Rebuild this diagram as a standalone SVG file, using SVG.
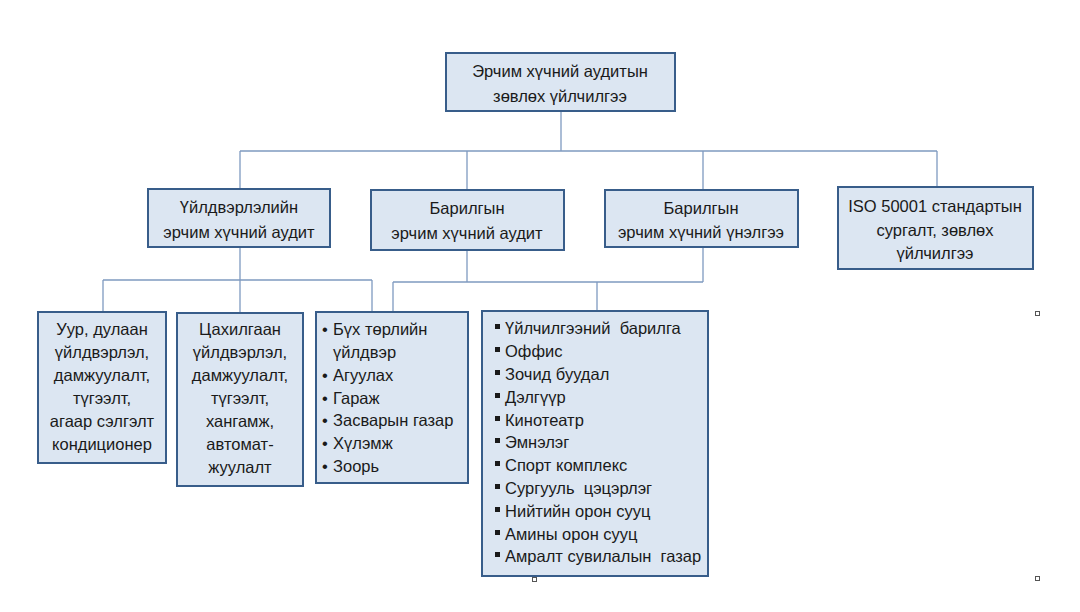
<svg xmlns="http://www.w3.org/2000/svg" width="1080" height="612" viewBox="0 0 1080 612">
<style>
.box{fill:#dce6f2;stroke:#385d8a;stroke-width:2}
.t{font-family:"Liberation Sans",Arial,sans-serif;font-size:16.5px;fill:#1a1a1a}
.c{text-anchor:middle}
.ln{fill:none;stroke:#7f9ac0;stroke-width:1.3}
.sq{fill:#fff;stroke:#555;stroke-width:1}
</style>
<rect width="1080" height="612" fill="#fff"/>
<g id="connectors" class="ln">
<path d="M561 111V151M240 151H937M240 151V189M467 151V190M703 151V190M937 151V187"/>
<path d="M240 247V280M103 280H372M103 280V312M240 280V313M372 280V312"/>
<path d="M467 250V282M703 247V282M393 282H703M393 282V312M597 282V311"/>
</g>
<g id="root">
<rect class="box" x="446" y="53" width="229" height="58"/>
<text class="t c" x="560" y="77">Эрчим хүчний аудитын</text>
<text class="t c" x="560" y="102">зөвлөх үйлчилгээ</text>
</g>
<g id="industry">
<rect class="box" x="148" y="189" width="182" height="58"/>
<text class="t c" x="239" y="213">Үйлдвэрлэлийн</text>
<text class="t c" x="239" y="238">эрчим хүчний аудит</text>
</g>
<g id="building-audit">
<rect class="box" x="371" y="190" width="193" height="60"/>
<text class="t c" x="467" y="214">Барилгын</text>
<text class="t c" x="467" y="239">эрчим хүчний аудит</text>
</g>
<g id="building-rating">
<rect class="box" x="605" y="190" width="193" height="57"/>
<text class="t c" x="701" y="214">Барилгын</text>
<text class="t c" x="701" y="238">эрчим хүчний үнэлгээ</text>
</g>
<g id="iso">
<rect class="box" x="838" y="187" width="195" height="82"/>
<text class="t c" x="935" y="212">ISO 50001 стандартын</text>
<text class="t c" x="935" y="236">сургалт, зөвлөх</text>
<text class="t c" x="935" y="259">үйлчилгээ</text>
</g>
<g id="heat">
<rect class="box" x="38" y="312" width="128" height="151"/>
<text class="t c" x="102" y="335">Уур, дулаан</text>
<text class="t c" x="102" y="358">үйлдвэрлэл,</text>
<text class="t c" x="102" y="381">дамжуулалт,</text>
<text class="t c" x="102" y="404">түгээлт,</text>
<text class="t c" x="102" y="427">агаар сэлгэлт</text>
<text class="t c" x="102" y="450">кондиционер</text>
</g>
<g id="electric">
<rect class="box" x="177" y="313" width="126" height="173"/>
<text class="t c" x="240" y="335">Цахилгаан</text>
<text class="t c" x="240" y="358">үйлдвэрлэл,</text>
<text class="t c" x="240" y="381">дамжуулалт,</text>
<text class="t c" x="240" y="404">түгээлт,</text>
<text class="t c" x="240" y="427">хангамж,</text>
<text class="t c" x="240" y="450">автомат-</text>
<text class="t c" x="240" y="473">жуулалт</text>
</g>
<g id="industrial-buildings">
<rect class="box" x="316" y="312" width="152" height="171"/>
<g class="t">
<text x="322" y="335">•</text><text x="333" y="335">Бүх төрлийн</text>
<text x="333" y="358">үйлдвэр</text>
<text x="322" y="381">•</text><text x="333" y="381">Агуулах</text>
<text x="322" y="404">•</text><text x="333" y="404">Гараж</text>
<text x="322" y="426">•</text><text x="333" y="426">Засварын газар</text>
<text x="322" y="449">•</text><text x="333" y="449">Хүлэмж</text>
<text x="322" y="472">•</text><text x="333" y="472">Зоорь</text>
</g>
</g>
<g id="public-buildings">
<rect class="box" x="482" y="311" width="226" height="265"/>
<g fill="#1a1a1a">
<rect x="495" y="324" width="5" height="5"/>
<rect x="495" y="347" width="5" height="5"/>
<rect x="495" y="370" width="5" height="5"/>
<rect x="495" y="393" width="5" height="5"/>
<rect x="495" y="416" width="5" height="5"/>
<rect x="495" y="438" width="5" height="5"/>
<rect x="495" y="461" width="5" height="5"/>
<rect x="495" y="484" width="5" height="5"/>
<rect x="495" y="507" width="5" height="5"/>
<rect x="495" y="530" width="5" height="5"/>
<rect x="495" y="552" width="5" height="5"/>
</g>
<g class="t">
<text x="505" y="334">Үйлчилгээний&#160; барилга</text>
<text x="505" y="357">Оффис</text>
<text x="505" y="380">Зочид буудал</text>
<text x="505" y="403">Дэлгүүр</text>
<text x="505" y="426">Кинотеатр</text>
<text x="505" y="448">Эмнэлэг</text>
<text x="505" y="471">Спорт комплекс</text>
<text x="505" y="494">Сургууль&#160; цэцэрлэг</text>
<text x="505" y="517">Нийтийн орон сууц</text>
<text x="505" y="540">Амины орон сууц</text>
<text x="505" y="562">Амралт сувилалын&#160; газар</text>
</g>
</g>
<g id="handles">
<rect class="sq" x="1035.5" y="311.5" width="4" height="4"/>
<rect class="sq" x="1035.5" y="576.5" width="4" height="4"/>
<rect class="sq" x="532.5" y="577.5" width="4" height="4"/>
</g>
</svg>
